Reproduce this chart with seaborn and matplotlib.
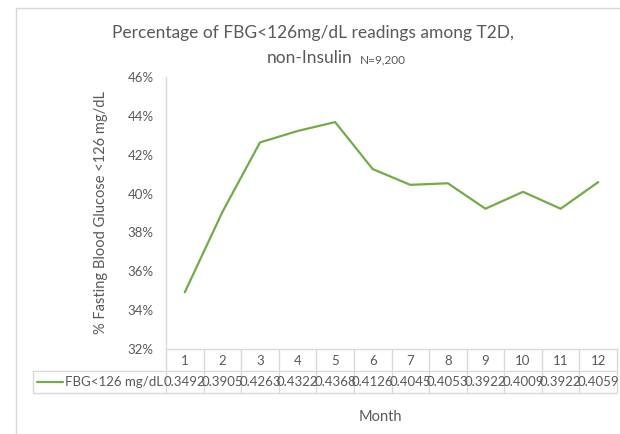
import seaborn as sns
import matplotlib.pyplot as plt
import pandas as pd
from matplotlib.lines import Line2D
from matplotlib.ticker import FuncFormatter

months = [1, 2, 3, 4, 5, 6, 7, 8, 9, 10, 11, 12]
fbg = [0.3492, 0.3905, 0.4263, 0.4322, 0.4368, 0.4126,
       0.4045, 0.4053, 0.3922, 0.4009, 0.3922, 0.4059]
series_name = "FBG<126 mg/dL"
y_ticks = [0.32, 0.34, 0.36, 0.38, 0.40, 0.42, 0.44, 0.46]

df = pd.DataFrame({"Month": months, "Value": fbg})

sns.set_style("white")
plt.rcParams['font.family'] = ['Lato', 'DejaVu Sans']

W, H = 620, 434
fig = plt.figure(figsize=(6.2, 4.34), dpi=100)
# axes box in pixels: x 166..617, y 77..349
ax = fig.add_axes([166 / W, 1 - 349 / H, (617 - 166) / W, (349 - 77) / H])

green = '#70AD47'
grey_txt = '#595959'
grid_c = '#D9D9D9'

sns.lineplot(data=df, x="Month", y="Value", color=green, linewidth=1.6, ax=ax)

ax.set_xlim(0.5, 12.5)
ax.set_ylim(0.32, 0.46)
ax.set_yticks(y_ticks)
ax.yaxis.set_major_formatter(FuncFormatter(lambda v, p: f"{v*100:.0f}%"))
ax.tick_params(axis='y', length=0, pad=9, labelsize=9.5, labelcolor=grey_txt)
ax.set_xticks(months)
ax.set_xticklabels([str(m) for m in months])
ax.tick_params(axis='x', length=0, pad=4, labelsize=9.5, labelcolor=grey_txt)

for s in ['top', 'right']:
    ax.spines[s].set_visible(False)
for s in ['left', 'bottom']:
    ax.spines[s].set_color(grid_c)
    ax.spines[s].set_linewidth(1)

ax.set_xlabel("")
ax.set_ylabel("% Fasting Blood Glucose <126 mg/dL", fontsize=10.5, color=grey_txt)
ax.yaxis.set_label_coords((108 - 166) / 451, 0.5)

# data table under the axis (drawn in figure pixel coords)
def px(x, y):
    return x / W, 1 - y / H

def hline(x0, x1, y):
    a, b = px(x0, y)
    c, _ = px(x1, y)
    fig.add_artist(Line2D([a, c], [b, b], color=grid_c, lw=1))

def vline(x, y0, y1):
    a, b = px(x, y0)
    _, d = px(x, y1)
    fig.add_artist(Line2D([a, a], [b, d], color=grid_c, lw=1))

cell_w = (617 - 166) / 12
hline(33, 617, 371)
hline(33, 617, 393)
vline(33, 371, 393)
for i in range(13):
    vline(166 + i * cell_w, 349, 393)

for i, v in enumerate(fbg):
    cx, cy = px(166 + (i + 0.5) * cell_w, 382)
    fig.text(cx, cy, f"{v:.4f}", ha='center', va='center', fontsize=9.5, color=grey_txt)

lx0, ly = px(37, 382)
lx1, _ = px(63, 382)
fig.add_artist(Line2D([lx0, lx1], [ly, ly], color=green, lw=1.6))
tx, ty = px(65, 382)
fig.text(tx, ty, series_name, ha='left', va='center', fontsize=9.5, color=grey_txt)

# axis title and chart title
fig.text(*px(380, 417), "Month", ha='center', va='center', fontsize=10.5, color=grey_txt)
fig.text(*px(313, 33), "Percentage of FBG<126mg/dL readings among T2D,",
         ha='center', va='center', fontsize=12.5, color=grey_txt)
fig.text(*px(352, 63), "non-Insulin", ha='right', va='baseline', fontsize=12.5, color=grey_txt)
fig.text(*px(360, 63), "N=9,200", ha='left', va='baseline', fontsize=8.5, color=grey_txt)

# chart area border
fig.add_artist(Line2D([16 / W, 16 / W], [0, 1 - 8 / H], color=grid_c, lw=1))
fig.add_artist(Line2D([16 / W, 1], [1 - 8 / H, 1 - 8 / H], color=grid_c, lw=1))

plt.savefig("out.png", dpi=100)
